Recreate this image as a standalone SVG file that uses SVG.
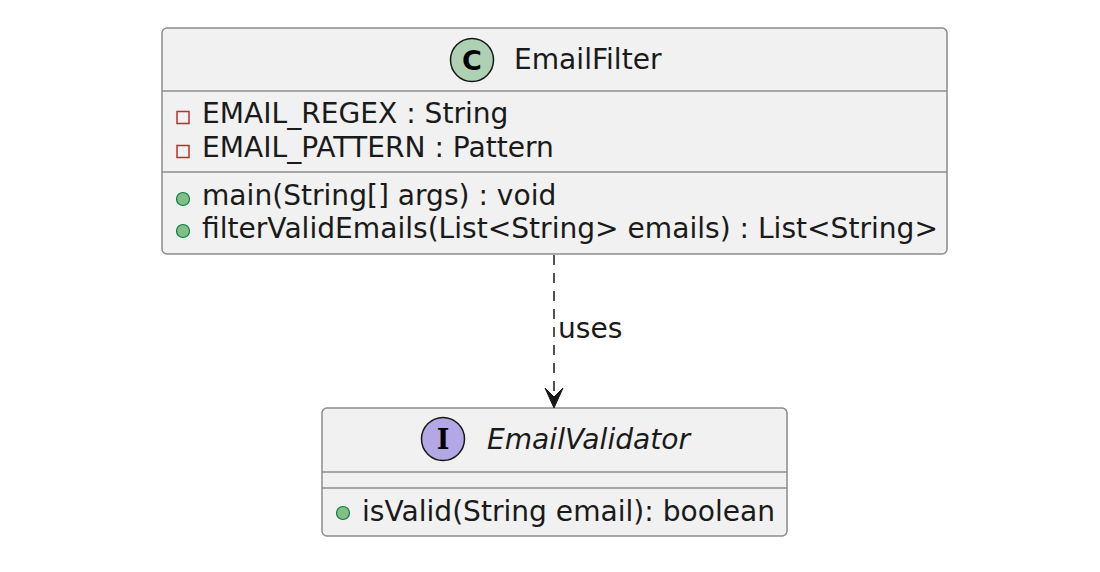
<svg xmlns="http://www.w3.org/2000/svg" width="1100" height="572" viewBox="0 0 1100 572">
<style>
.box{fill:#F1F1F1;stroke:#8c8c8c;stroke-width:1.5}
.sep{stroke:#8c8c8c;stroke-width:1.5}
.t{font-family:"DejaVu Sans",sans-serif;font-size:28.1px;fill:#1a1a1a}
.it{font-style:italic}
.priv{fill:none;stroke:#C82930;stroke-width:1.5}
.pub{fill:#84BE84;stroke:#038048;stroke-width:1.2}
.edge{stroke:#181818;stroke-width:1.5;fill:none;stroke-dasharray:10,8}
</style>
<rect width="1100" height="572" fill="#ffffff"/>
<g id="EmailFilter">
<rect class="box" x="162" y="28" width="785" height="226" rx="5"/>
<circle cx="472" cy="60" r="21.5" fill="#ADD1B2" stroke="#181818" stroke-width="1.5"/>
<text x="472" y="70" text-anchor="middle" font-family="DejaVu Sans,sans-serif" font-weight="bold" font-size="27" fill="#000">C</text>
<text class="t" x="514" y="69">EmailFilter</text>
<line class="sep" x1="162" y1="91" x2="947" y2="91"/>
<rect class="priv" x="177" y="111.5" width="12" height="12"/>
<text class="t" x="202" y="123">EMAIL_REGEX : String</text>
<rect class="priv" x="177" y="145.5" width="12" height="12"/>
<text class="t" x="202" y="157">EMAIL_PATTERN : Pattern</text>
<line class="sep" x1="162" y1="172" x2="947" y2="172"/>
<circle class="pub" cx="183" cy="199" r="6.5"/>
<text class="t" x="202" y="205">main(String[] args) : void</text>
<circle class="pub" cx="183" cy="231" r="6.5"/>
<text class="t" x="202" y="238">filterValidEmails(List&lt;String&gt; emails) : List&lt;String&gt;</text>
</g>
<g id="EmailValidator">
<rect class="box" x="322" y="408" width="465" height="128" rx="5"/>
<circle cx="443" cy="439" r="21.5" fill="#B4A7E5" stroke="#181818" stroke-width="1.5"/>
<text x="443" y="449" text-anchor="middle" font-family="DejaVu Serif,serif" font-weight="bold" font-size="27" fill="#000">I</text>
<text class="t it" x="487" y="449">EmailValidator</text>
<line class="sep" x1="322" y1="472" x2="787" y2="472"/>
<line class="sep" x1="322" y1="488" x2="787" y2="488"/>
<circle class="pub" cx="343" cy="513" r="6.5"/>
<text class="t" x="362" y="521">isValid(String email): boolean</text>
</g>
<g id="connectors">
<line class="edge" x1="554" y1="255" x2="554" y2="396"/>
<polygon points="545,388 554,408 563,388 554,397" fill="#181818" stroke="#181818" stroke-width="1"/>
<text class="t" x="558" y="338">uses</text>
</g>
</svg>
